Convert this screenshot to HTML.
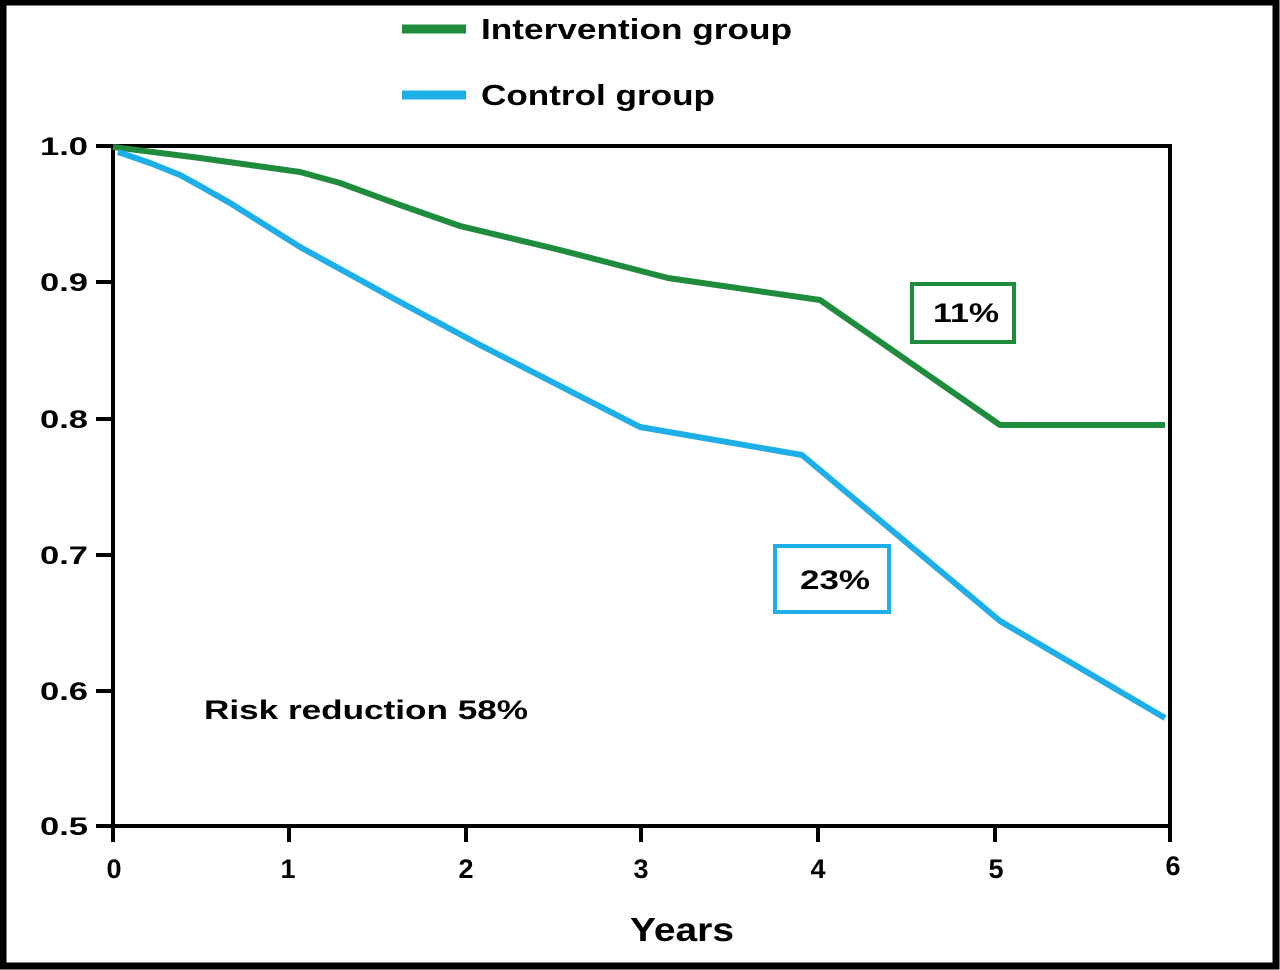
<!DOCTYPE html><html><head><style>body{margin:0;background:#fff}svg{display:block}text{font-family:"Liberation Sans",sans-serif;font-weight:bold;fill:#000}</style></head><body>
<svg width="1280" height="970" viewBox="0 0 1280 970">
<rect x="3" y="2" width="1273" height="964" fill="#fff" stroke="#000" stroke-width="7"/>
<line x1="402" y1="29" x2="466" y2="29" stroke="#1e8c3c" stroke-width="9"/>
<text x="481" y="39" font-size="29" textLength="311" lengthAdjust="spacingAndGlyphs">Intervention group</text>
<line x1="402" y1="95" x2="466" y2="95" stroke="#1eaee8" stroke-width="9"/>
<text x="481" y="105" font-size="29" textLength="234" lengthAdjust="spacingAndGlyphs">Control group</text>
<g stroke="#000" stroke-width="4" fill="none">
<polyline points="113,146 1170,146 1170,842"/>
<line x1="113" y1="146" x2="113" y2="842"/>
<line x1="96" y1="826" x2="1170" y2="826"/>
<line x1="96" y1="146" x2="113" y2="146"/><line x1="96" y1="282" x2="113" y2="282"/><line x1="96" y1="419" x2="113" y2="419"/><line x1="96" y1="555" x2="113" y2="555"/><line x1="96" y1="691" x2="113" y2="691"/>
<line x1="289" y1="826" x2="289" y2="842"/><line x1="466" y1="826" x2="466" y2="842"/><line x1="641" y1="826" x2="641" y2="842"/><line x1="818" y1="826" x2="818" y2="842"/><line x1="995" y1="826" x2="995" y2="842"/>
</g>
<g font-size="25">
<text x="40" y="155" textLength="48" lengthAdjust="spacingAndGlyphs">1.0</text><text x="40" y="291" textLength="48" lengthAdjust="spacingAndGlyphs">0.9</text><text x="40" y="428" textLength="48" lengthAdjust="spacingAndGlyphs">0.8</text><text x="40" y="564" textLength="48" lengthAdjust="spacingAndGlyphs">0.7</text><text x="40" y="700" textLength="48" lengthAdjust="spacingAndGlyphs">0.6</text><text x="40" y="835" textLength="48" lengthAdjust="spacingAndGlyphs">0.5</text>
</g>
<g font-size="27" text-anchor="middle">
<text x="114" y="878">0</text><text x="288" y="878">1</text><text x="466" y="878">2</text><text x="641" y="878">3</text><text x="818" y="878">4</text><text x="996" y="878">5</text><text x="1173" y="875">6</text>
</g>
<text x="630" y="941" font-size="33" textLength="104" lengthAdjust="spacingAndGlyphs">Years</text>
<polyline fill="none" stroke="#1e8c3c" stroke-width="6" stroke-linejoin="round" points="113,147 200,158 300,172 340,183 400,205 460,226 560,250 668,278 820,300 1000,425 1165,425"/>
<polyline fill="none" stroke="#1eaee8" stroke-width="6" stroke-linejoin="round" points="118,152 150,163 180,175 200,186 230,203 300,247 400,302 480,345 640,427 802,455 1000,621 1165,718"/>
<rect x="912" y="284" width="102" height="58" fill="#fff" stroke="#1e8c3c" stroke-width="4"/>
<text x="933" y="322" font-size="27" textLength="66" lengthAdjust="spacingAndGlyphs">11%</text>
<rect x="775" y="546" width="114" height="66" fill="#fff" stroke="#1eaee8" stroke-width="4"/>
<text x="800" y="589" font-size="27" textLength="70" lengthAdjust="spacingAndGlyphs">23%</text>
<text x="204" y="719" font-size="27" textLength="324" lengthAdjust="spacingAndGlyphs">Risk reduction 58%</text>
</svg></body></html>
